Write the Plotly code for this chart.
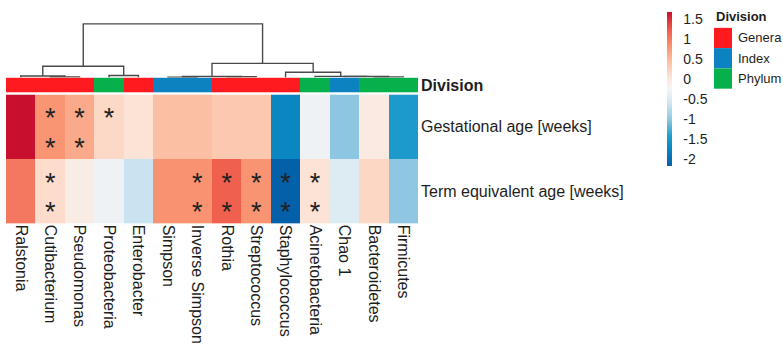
import plotly.graph_objects as go

# ---- data -------------------------------------------------------------
columns = ["Ralstonia", "Cutibacterium", "Pseudomonas", "Proteobacteria",
           "Enterobacter", "Simpson", "Inverse Simpson", "Rothia",
           "Streptococcus", "Staphylococcus", "Acinetobacteria", "Chao 1",
           "Bacteroidetes", "Firmicutes"]
rows = ["Gestational age [weeks]", "Term equivalent age [weeks]"]
division = ["Genera", "Genera", "Genera", "Phylum", "Genera", "Index", "Index",
            "Genera", "Genera", "Genera", "Phylum", "Index", "Phylum", "Phylum"]
division_levels = ["Genera", "Index", "Phylum"]

# scaled correlation values per row
gestational = [1.66, 0.79, 0.62, 0.16, 0.04, 0.43, 0.43, 0.33, 0.33,
               -1.75, -0.33, -1.04, -0.07, -1.50]
term_equivalent = [1.01, 0.12, -0.11, -0.33, -0.65, 0.81, 0.81, 1.20, 0.80,
                   -2.19, 0.04, -0.50, 0.18, -1.03]

# significance marks (upper and lower star in each cell)
sig_upper = [[0, 1, 1, 1, 0, 0, 0, 0, 0, 0, 0, 0, 0, 0],
             [0, 1, 0, 0, 0, 0, 1, 1, 1, 1, 1, 0, 0, 0]]
sig_lower = [[0, 1, 1, 0, 0, 0, 0, 0, 0, 0, 0, 0, 0, 0],
             [0, 1, 0, 0, 0, 0, 1, 1, 1, 1, 1, 0, 0, 0]]

# column clustering: (left id, right id, height); ids >= 14 are earlier merges
merges = [
    (1, 2, 0.5),     # 14
    (0, 14, 1.5),    # 15
    (3, 4, 2.0),     # 16
    (15, 16, 11.3),  # 17
    (5, 6, 0.3),     # 18
    (7, 8, 0.8),     # 19
    (18, 19, 1.0),   # 20
    (12, 13, 0.6),   # 21
    (11, 21, 1.0),   # 22
    (10, 22, 1.2),   # 23
    (9, 23, 5.3),    # 24
    (20, 24, 14.3),  # 25
    (17, 25, 54.0),  # 26
]

cbar_ticks = [1.5, 1, 0.5, 0, -0.5, -1, -1.5, -2]

# ---- styling ----------------------------------------------------------
W, H = 783, 344
FONT = "Liberation Sans, Arial, sans-serif"
INK = "#1e1e1e"
div_colors = {"Genera": "#FF1A1F", "Index": "#0C83C0", "Phylum": "#06B14C"}
colorscale = [
    [0.00, "#0460A8"], [0.12, "#0A89C2"], [0.20, "#22A0CF"],
    [0.30, "#8EC6E1"], [0.42, "#D6E9F3"], [0.50, "#F5F5F5"],
    [0.58, "#FDE3D6"], [0.68, "#FBC0A3"], [0.78, "#F99270"],
    [0.88, "#F0604E"], [1.00, "#C8102E"],
]


def px_x(p):
    return p / W


def px_y(p):
    return 1 - p / H


n = len(columns)
z = [gestational, term_equivalent]
zmin = min(min(r) for r in z)
zmax = max(max(r) for r in z)

fig = go.Figure()

# main heatmap
fig.add_trace(go.Heatmap(
    z=z, x=list(range(n)), y=list(range(len(rows))),
    colorscale=colorscale, zmin=zmin, zmax=zmax,
    xaxis="x", yaxis="y", hoverinfo="skip",
    colorbar=dict(
        x=px_x(667), xanchor="left", xpad=0,
        y=px_y((12 + 166) / 2), yanchor="middle", ypad=0,
        len=154, lenmode="pixels", thickness=5, outlinewidth=0,
        tickvals=cbar_ticks, ticktext=[f"{v:g}" for v in cbar_ticks],
        ticks="outside", ticklen=9, tickcolor="rgba(0,0,0,0)",
        tickfont=dict(size=14, color=INK, family=FONT),
    ),
))

# significance stars
for marks, off in ((sig_upper, -0.10), (sig_lower, 0.36)):
    sx, sy = [], []
    for r, line in enumerate(marks):
        for c, m in enumerate(line):
            if m:
                sx.append(c)
                sy.append(r + off)
    fig.add_trace(go.Scatter(
        x=sx, y=sy, mode="text", text=["*"] * len(sx),
        textposition="middle center",
        textfont=dict(size=27, color="#222222", family=FONT),
        xaxis="x", yaxis="y", hoverinfo="skip", showlegend=False,
    ))

# division annotation bar
codes = [division_levels.index(d) for d in division]
k = len(division_levels)
div_scale = []
for i, lvl in enumerate(division_levels):
    div_scale.append([i / k, div_colors[lvl]])
    div_scale.append([(i + 1) / k, div_colors[lvl]])
fig.add_trace(go.Heatmap(
    z=[codes], x=list(range(n)), y=[0], zmin=-0.5, zmax=k - 0.5,
    colorscale=div_scale, showscale=False, xaxis="x", yaxis="y2",
    hoverinfo="skip",
))

# dendrogram
pos = {i: float(i) for i in range(n)}
hgt = {i: 0.0 for i in range(n)}
dx, dy = [], []
for j, (a, b, h) in enumerate(merges):
    dx += [pos[a], pos[a], pos[b], pos[b], None]
    dy += [hgt[a], h, h, hgt[b], None]
    pos[n + j] = (pos[a] + pos[b]) / 2
    hgt[n + j] = h
fig.add_trace(go.Scatter(
    x=dx, y=dy, mode="lines", line=dict(color="#4a4a4a", width=1.4),
    xaxis="x", yaxis="y3", hoverinfo="skip", showlegend=False,
))
top_h = max(h for _, _, h in merges)

# division legend
fig.add_annotation(
    x=px_x(714), y=px_y(16), xref="paper", yref="paper",
    xanchor="left", yanchor="middle", showarrow=False,
    text="<b>Division</b>", font=dict(size=13, color=INK, family=FONT),
)
for i, lvl in enumerate(division_levels):
    y0, y1 = 27 + 20.4 * i, 27 + 20.4 * (i + 1)
    fig.add_shape(type="rect", xref="paper", yref="paper",
                  x0=px_x(714), x1=px_x(732), y0=px_y(y1), y1=px_y(y0),
                  fillcolor=div_colors[lvl], line=dict(width=0))
    fig.add_annotation(
        x=px_x(736), y=px_y((y0 + y1) / 2), xref="paper", yref="paper",
        xanchor="left", yanchor="middle", showarrow=False,
        text=lvl, font=dict(size=13, color=INK, family=FONT),
    )

x_dom = [px_x(6), px_x(418)]
fig.update_layout(
    width=W, height=H, autosize=False,
    margin=dict(l=0, r=0, t=0, b=0),
    paper_bgcolor="white", plot_bgcolor="white",
    font=dict(family=FONT, color=INK),
    showlegend=False,
    xaxis=dict(
        domain=x_dom, range=[-0.5, n - 0.5], anchor="y",
        tickvals=list(range(n)), ticktext=columns, tickangle=90,
        ticks="", showgrid=False, zeroline=False, showline=False,
        tickfont=dict(size=16, color=INK, family=FONT),
    ),
    yaxis=dict(
        domain=[px_y(224), px_y(94)], range=[len(rows) - 0.5, -0.5],
        anchor="x", side="right",
        tickvals=list(range(len(rows))), ticktext=rows,
        ticks="", ticklabelstandoff=2,
        showgrid=False, zeroline=False, showline=False,
        tickfont=dict(size=16, color=INK, family=FONT),
    ),
    yaxis2=dict(
        domain=[px_y(92), px_y(77)], range=[-0.5, 0.5],
        anchor="x", side="right",
        tickvals=[0], ticktext=["<b>Division</b>"],
        ticks="", ticklabelstandoff=2,
        showgrid=False, zeroline=False, showline=False,
        tickfont=dict(size=16, color=INK, family=FONT),
    ),
    yaxis3=dict(
        domain=[px_y(77), px_y(18)], range=[0, top_h * 59 / 54],
        anchor="x", visible=False, showgrid=False, zeroline=False,
    ),
)

fig.write_html("out.html")
